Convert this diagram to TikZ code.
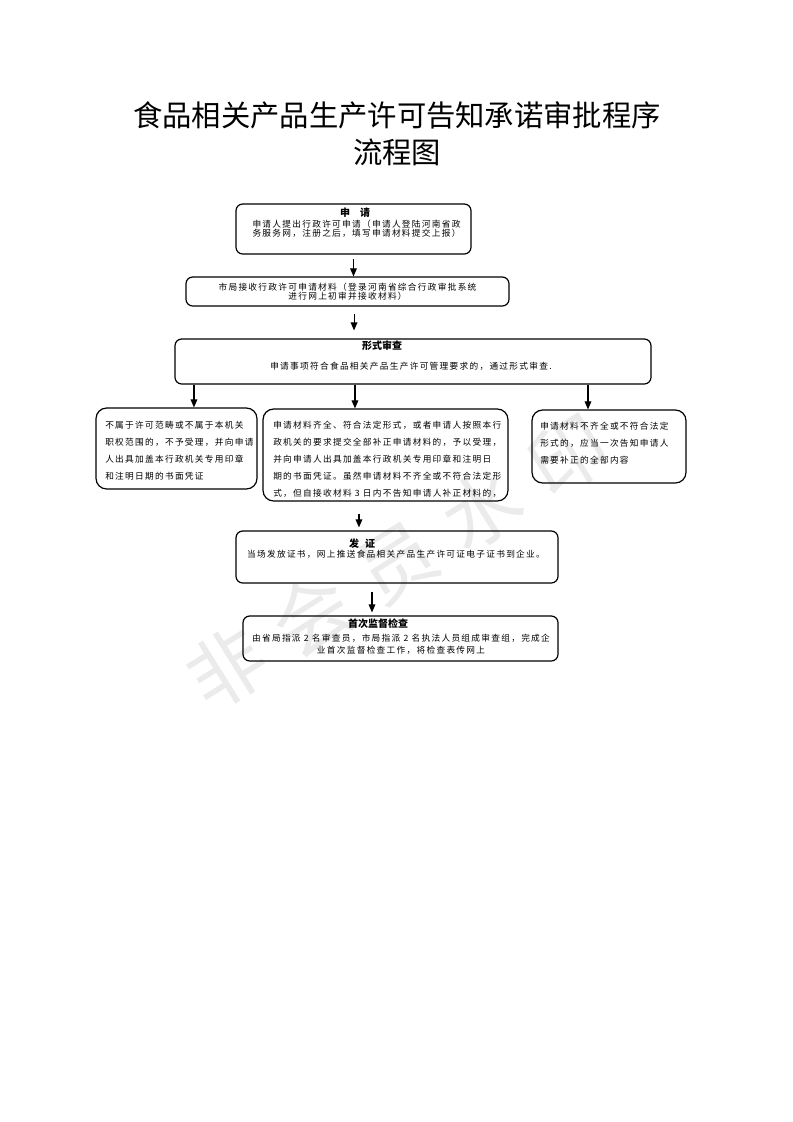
\documentclass[tikz,border=0pt]{standalone}
\usepackage{fontspec}
\newfontfamily\cjk{Noto Sans CJK SC}
\newfontfamily\cjkbox[LetterSpace=15]{Noto Sans CJK SC}
\newfontfamily\cjkmark[LetterSpace=30]{Noto Sans CJK SC}
\usetikzlibrary{arrows.meta, fit, positioning}

\begin{document}
\begin{tikzpicture}[x=0.75pt, y=-0.75pt,
    stage/.style={draw, line width=0.9pt, rounded corners=5pt, inner sep=0pt},
    head/.style={inner sep=0pt, font=\cjk\fontsize{7.5}{9}\selectfont\bfseries},
    body/.style={inner sep=0pt, font=\cjkbox\fontsize{6.5}{7.1}\selectfont, align=center},
    note/.style={inner sep=0pt, font=\cjkbox\fontsize{6.5}{12.75}\selectfont, align=left, anchor=west},
    flow/.style={-{Triangle[length=6pt,width=5pt]}, line width=0.8pt}]
    \useasboundingbox (0,0) rectangle (793,1122);

    % watermark
    \node[rotate=32, text=black!8, font=\cjkmark\fontsize{58}{58}\selectfont] (mark) at (397,562) {非会员水印};

    \node[font=\cjk\fontsize{22}{27.75}\selectfont, align=center] (title) at (397,133.5) {食品相关产品生产许可告知承诺审批程序\\流程图};

    \node[stage, fit={(236,204) (471,254)}] (apply) {};
    \node[stage, fit={(186,277) (509,306)}] (receive) {};
    \node[stage, fit={(175,339) (651,384)}] (formal) {};
    \node[stage, rounded corners=8pt, fit={(96,408) (257,489)}] (reject) {};
    \node[stage, rounded corners=8pt, fit={(263,409) (508,501)}] (accept) {};
    \node[stage, rounded corners=8pt, fit={(532,410) (686,483)}] (supplement) {};
    \node[stage, fit={(236,531) (558,583)}] (cert) {};
    \node[stage, fit={(243,616) (558,661)}] (inspect) {};

    \node[head] (applyHead) at (355,213) {申\hspace{1em}请};
    \node[body] (applyText) at (356.5,228.5) {申请人提出行政许可申请（申请人登陆河南省政\\务服务网，注册之后，填写申请材料提交上报）};
    \node[body] (receiveText) at (347.5,291.5) {市局接收行政许可申请材料（登录河南省综合行政审批系统\\进行网上初审并接收材料）};
    \node[head] (formalHead) at (382,346) {形式审查};
    \node[body] (formalText) at (411,366) {申请事项符合食品相关产品生产许可管理要求的，通过形式审查.};
    \node[note] (rejectText) at (105,451) {不属于许可范畴或不属于本机关\\职权范围的，不予受理，并向申请\\人出具加盖本行政机关专用印章\\和注明日期的书面凭证};
    \node[note] (acceptText) at (273,459) {申请材料齐全、符合法定形式，或者申请人按照本行\\政机关的要求提交全部补正申请材料的，予以受理，\\并向申请人出具加盖本行政机关专用印章和注明日\\期的书面凭证。虽然申请材料不齐全或不符合法定形\\式，但自接收材料 3 日内不告知申请人补正材料的，};
    \node[note] (supplementText) at (540,443) {申请材料不齐全或不符合法定\\形式的，应当一次告知申请人\\需要补正的全部内容};
    \node[head] (certHead) at (362,544) {发\hspace{0.6em}证};
    \node[body] (certText) at (396,554) {当场发放证书，网上推送食品相关产品生产许可证电子证书到企业。};
    \node[head] (inspectHead) at (378,624) {首次监督检查};
    \node[body, font=\cjkbox\fontsize{6.5}{9}\selectfont] (inspectText) at (401,644) {由省局指派 2 名审查员，市局指派 2 名执法人员组成审查组，完成企\\业首次监督检查工作，将检查表传网上};

    \draw[flow] ([yshift=-3pt]apply.south) -- (apply.south |- receive.north);
    \draw[flow] ([xshift=4.9pt,yshift=-5.25pt]receive.south) -- ([xshift=4.9pt,yshift=6pt]receive.south |- formal.north);
    \draw[flow] ([xshift=13.1pt]reject.north |- formal.south) -- ([xshift=13.1pt]reject.north);
    \draw[flow] ([xshift=-22.9pt]accept.north |- formal.south) -- ([xshift=-22.9pt]accept.north);
    \draw[flow] ([xshift=-15.75pt]supplement.north |- formal.south) -- ([xshift=-15.75pt]supplement.north);
    \draw[flow] ([xshift=-19.9pt,yshift=-9pt]accept.south) -- ([xshift=-19.9pt,yshift=2.25pt]accept.south |- cert.north);
    \draw[flow] ([xshift=-18.75pt,yshift=-6pt]cert.south) -- ([xshift=-18.75pt,yshift=2.25pt]cert.south |- inspect.north);
\end{tikzpicture}
\end{document}
